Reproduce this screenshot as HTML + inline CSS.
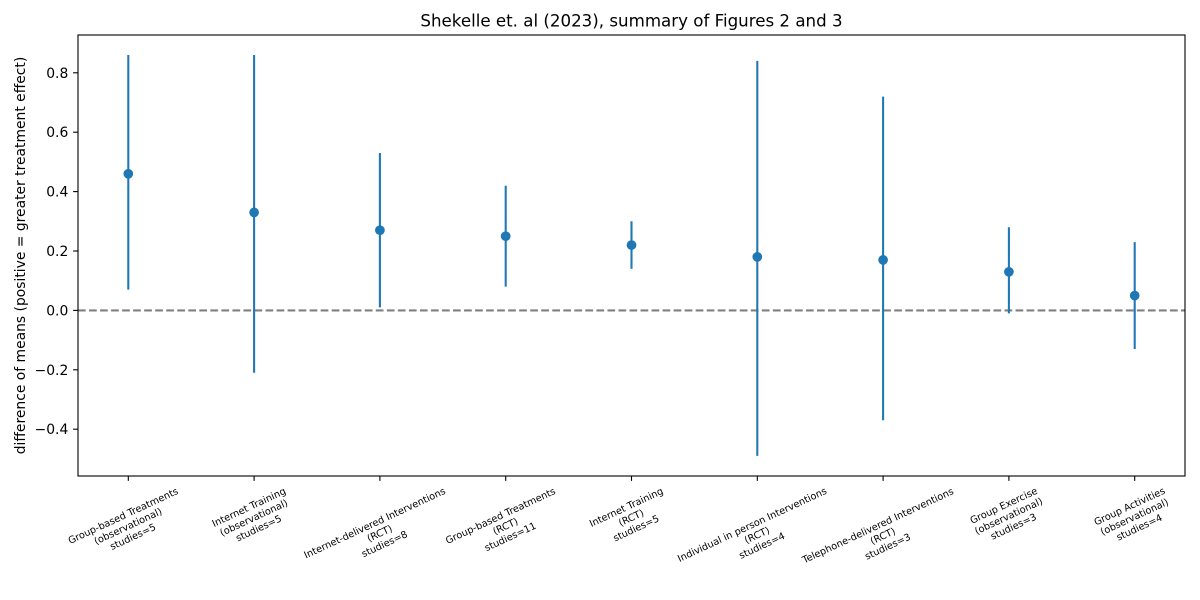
<!DOCTYPE html>
<html>
<head>
<meta charset="utf-8">
<style>
  html, body { margin: 0; padding: 0; background: #ffffff; }
  svg { display: block; }
  text { font-family: "DejaVu Sans", "Liberation Sans", sans-serif; fill: #000; }
</style>
</head>
<body>
<svg width="1200" height="600" viewBox="0 0 1200 600" xmlns="http://www.w3.org/2000/svg">
  <rect x="0" y="0" width="1200" height="600" fill="#ffffff"/>

  <!-- Title -->
  <text x="631.5" y="26.5" font-size="16.67" text-anchor="middle">Shekelle et. al (2023), summary of Figures 2 and 3</text>

  <!-- Zero dashed line -->
  <line x1="78" y1="310.4" x2="1185" y2="310.4" stroke="#808080" stroke-width="2.08" stroke-dasharray="7.7,3.33"/>

  <!-- Error bars -->
  <g stroke="#1f77b4" stroke-width="2.08">
    <line x1="128.3" y1="55.0" x2="128.3" y2="289.6"/>
    <line x1="254.1" y1="55.0" x2="254.1" y2="372.8"/>
    <line x1="379.9" y1="153.0" x2="379.9" y2="307.4"/>
    <line x1="505.7" y1="185.7" x2="505.7" y2="286.6"/>
    <line x1="631.5" y1="221.3" x2="631.5" y2="268.8"/>
    <line x1="757.3" y1="60.9" x2="757.3" y2="455.9"/>
    <line x1="883.1" y1="96.6" x2="883.1" y2="420.3"/>
    <line x1="1008.9" y1="227.3" x2="1008.9" y2="313.4"/>
    <line x1="1134.7" y1="242.1" x2="1134.7" y2="349.0"/>
  </g>
  <!-- Markers -->
  <g fill="#1f77b4">
    <circle cx="128.3" cy="173.8" r="4.86"/>
    <circle cx="254.1" cy="212.4" r="4.86"/>
    <circle cx="379.9" cy="230.2" r="4.86"/>
    <circle cx="505.7" cy="236.2" r="4.86"/>
    <circle cx="631.5" cy="245.1" r="4.86"/>
    <circle cx="757.3" cy="256.9" r="4.86"/>
    <circle cx="883.1" cy="259.9" r="4.86"/>
    <circle cx="1008.9" cy="271.8" r="4.86"/>
    <circle cx="1134.7" cy="295.6" r="4.86"/>
  </g>

  <!-- Axes frame -->
  <rect x="78" y="35" width="1107" height="441" fill="none" stroke="#000" stroke-width="1.1"/>

  <!-- Y ticks -->
  <g stroke="#000" stroke-width="1.1">
    <line x1="73.1" y1="72.8" x2="78" y2="72.8"/>
    <line x1="73.1" y1="132.2" x2="78" y2="132.2"/>
    <line x1="73.1" y1="191.6" x2="78" y2="191.6"/>
    <line x1="73.1" y1="251.0" x2="78" y2="251.0"/>
    <line x1="73.1" y1="310.4" x2="78" y2="310.4"/>
    <line x1="73.1" y1="369.8" x2="78" y2="369.8"/>
    <line x1="73.1" y1="429.2" x2="78" y2="429.2"/>
  </g>
  <g font-size="13.89" text-anchor="end">
    <text x="68.3" y="77.8">0.8</text>
    <text x="68.3" y="137.2">0.6</text>
    <text x="68.3" y="196.6">0.4</text>
    <text x="68.3" y="256.0">0.2</text>
    <text x="68.3" y="315.4">0.0</text>
    <text x="68.3" y="374.8">−0.2</text>
    <text x="68.3" y="434.2">−0.4</text>
  </g>

  <!-- Y label -->
  <text transform="translate(25,255.5) rotate(-90)" font-size="13.89" text-anchor="middle">difference of means (positive = greater treatment effect)</text>

  <!-- X ticks -->
  <g stroke="#000" stroke-width="1.1">
    <line x1="128.3" y1="476" x2="128.3" y2="480.9"/>
    <line x1="254.1" y1="476" x2="254.1" y2="480.9"/>
    <line x1="379.9" y1="476" x2="379.9" y2="480.9"/>
    <line x1="505.7" y1="476" x2="505.7" y2="480.9"/>
    <line x1="631.5" y1="476" x2="631.5" y2="480.9"/>
    <line x1="757.3" y1="476" x2="757.3" y2="480.9"/>
    <line x1="883.1" y1="476" x2="883.1" y2="480.9"/>
    <line x1="1008.9" y1="476" x2="1008.9" y2="480.9"/>
    <line x1="1134.7" y1="476" x2="1134.7" y2="480.9"/>
  </g>

  <!-- X tick labels -->
  <g font-size="9.72" text-anchor="middle">
    <g transform="translate(128.3,526.9) rotate(-25)">
      <text><tspan x="0" y="-9.06">Group-based Treatments</tspan><tspan x="0" y="2.54">(observational)</tspan><tspan x="0" y="14.14">studies=5</tspan></text>
    </g>
    <g transform="translate(254.1,518.4) rotate(-25)">
      <text><tspan x="0" y="-9.06">Internet Training</tspan><tspan x="0" y="2.54">(observational)</tspan><tspan x="0" y="14.14">studies=5</tspan></text>
    </g>
    <g transform="translate(379.9,534.1) rotate(-25)">
      <text><tspan x="0" y="-9.06">Internet-delivered Interventions</tspan><tspan x="0" y="2.54">(RCT)</tspan><tspan x="0" y="14.14">studies=8</tspan></text>
    </g>
    <g transform="translate(505.7,526.9) rotate(-25)">
      <text><tspan x="0" y="-9.06">Group-based Treatments</tspan><tspan x="0" y="2.54">(RCT)</tspan><tspan x="0" y="14.14">studies=11</tspan></text>
    </g>
    <g transform="translate(631.5,518.4) rotate(-25)">
      <text><tspan x="0" y="-9.06">Internet Training</tspan><tspan x="0" y="2.54">(RCT)</tspan><tspan x="0" y="14.14">studies=5</tspan></text>
    </g>
    <g transform="translate(757.3,535.8) rotate(-25)">
      <text><tspan x="0" y="-9.06">Individual in person Interventions</tspan><tspan x="0" y="2.54">(RCT)</tspan><tspan x="0" y="14.14">studies=4</tspan></text>
    </g>
    <g transform="translate(883.1,536.7) rotate(-25)">
      <text><tspan x="0" y="-9.06">Telephone-delivered Interventions</tspan><tspan x="0" y="2.54">(RCT)</tspan><tspan x="0" y="14.14">studies=3</tspan></text>
    </g>
    <g transform="translate(1008.9,516.7) rotate(-25)">
      <text><tspan x="0" y="-9.06">Group Exercise</tspan><tspan x="0" y="2.54">(observational)</tspan><tspan x="0" y="14.14">studies=3</tspan></text>
    </g>
    <g transform="translate(1134.7,517.5) rotate(-25)">
      <text><tspan x="0" y="-9.06">Group Activities</tspan><tspan x="0" y="2.54">(observational)</tspan><tspan x="0" y="14.14">studies=4</tspan></text>
    </g>
  </g>
</svg>
</body>
</html>
